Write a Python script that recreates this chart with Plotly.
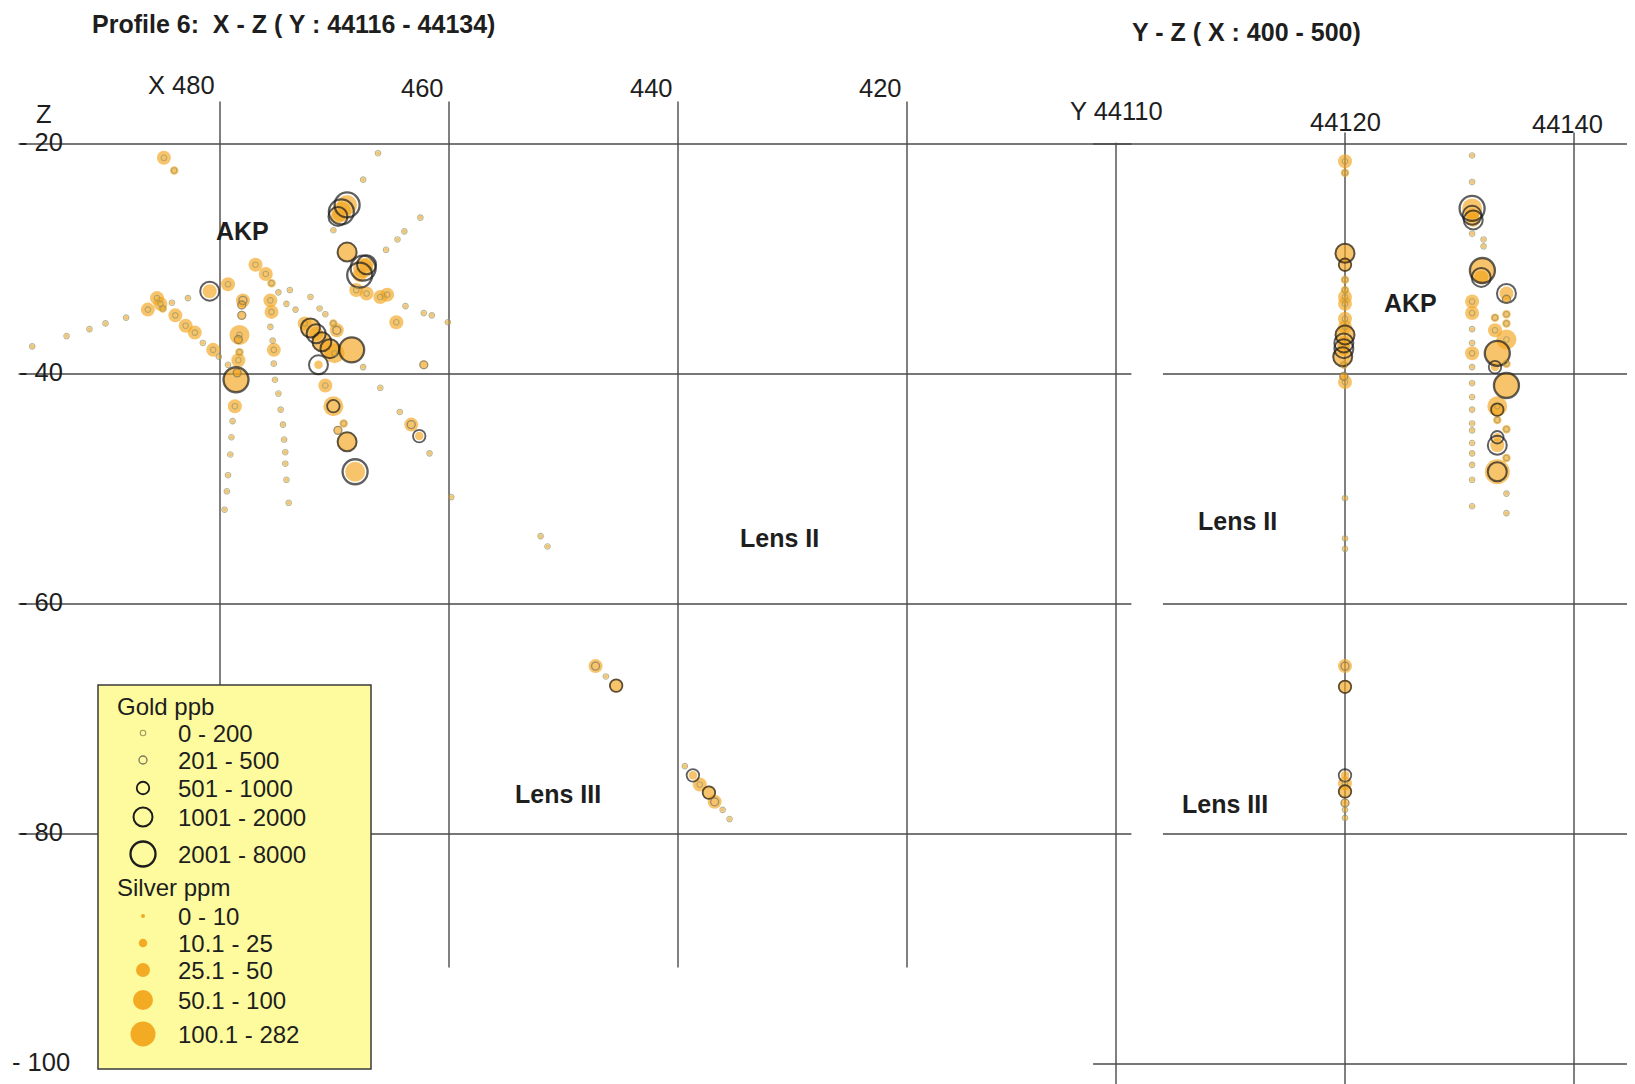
import plotly.graph_objects as go

# ---------------- DATA ----------------
# Left panel: Profile 6, X - Z section (X reversed)
left_x = [484.9, 484.0,
          466.2, 467.5, 468.9, 469.4, 469.7, 470.1, 462.5, 463.9, 464.5, 465.5, 468.9,
          467.5, 467.8, 467.2, 468.1, 467.2, 466.0, 465.4, 464.6, 463.8, 462.2, 461.5,
          460.1, 462.2, 466.0, 464.3, 463.3, 462.6, 461.7, 459.8,
          472.6, 472.1, 471.6, 471.1, 470.4, 470.0, 468.5, 469.8, 470.1, 471.4, 467.5,
          470.8, 470.1, 469.7, 468.9, 468.2, 469.2,
          473.9, 473.4, 472.1, 471.3, 470.8, 474.2,
          476.9, 476.0, 475.5, 474.9, 475.6, 475.5, 475.6, 475.4, 475.3, 475.3, 475.2,
          474.9, 474.7, 474.5, 474.4, 474.3, 474.3, 474.2, 474.0,
          478.0, 478.1, 478.1, 478.3, 478.4, 478.3, 478.4, 478.5, 478.6, 478.7, 478.9,
          479.0, 479.1, 479.3, 479.4, 479.6, 479.3, 480.9,
          485.5, 485.2, 486.3, 485.0, 484.2, 482.8, 488.2, 490.0, 491.4, 493.4, 496.4,
          483.9, 483.0, 482.2, 481.5, 480.6, 480.1, 479.3,
          452.0, 451.4,
          447.2, 446.3, 445.4, 439.4, 438.7, 438.1, 437.3, 436.8, 436.1, 435.5]
left_z = [-21.2, -22.3,
          -20.8, -23.1, -25.3, -25.9, -26.3, -27.5, -26.4, -27.6, -28.3, -29.2, -29.4,
          -30.8, -31.4, -30.5, -32.7, -33.0, -33.3, -33.1, -35.5, -34.1, -34.7, -34.9,
          -35.5, -39.2, -41.2, -43.3, -44.4, -45.4, -46.9, -50.7,
          -35.6, -36.0, -36.5, -37.2, -37.8, -38.2, -37.9, -36.2, -35.6, -39.2, -39.4,
          -41.0, -42.8, -44.9, -45.9, -48.5, -44.3,
          -32.7, -34.4, -33.3, -34.3, -34.8, -33.9,
          -30.5, -31.3, -32.1, -32.9, -33.6, -34.6, -35.9, -37.1, -37.9, -39.1, -40.5,
          -41.7, -43.1, -44.4, -45.7, -46.8, -47.8, -49.2, -51.2,
          -33.6, -34.0, -34.9, -36.6, -37.0, -38.1, -38.8, -39.9, -40.5, -42.8, -44.1,
          -45.5, -47.0, -48.8, -50.2, -51.8, -32.2, -32.8,
          -33.4, -33.9, -34.4, -34.3, -33.8, -33.4, -35.1, -35.6, -36.1, -36.7, -37.6,
          -34.9, -35.8, -36.4, -37.3, -37.9, -38.5, -39.2,
          -54.1, -55.0,
          -65.4, -66.3, -67.1, -74.1, -74.9, -75.7, -76.4, -77.2, -77.9, -78.7]
# silver class (0..4) and gold class (0..4) of each sample
left_ag = [2, 1,
           0, 0, 3, 3, 2, 0, 0, 0, 0, 0, 3,
           3, 2, 2, 2, 2, 2, 2, 2, 0, 0, 0,
           0, 1, 0, 0, 2, 1, 0, 0,
           2, 3, 2, 3, 3, 3, 4, 2, 1, 1, 0,
           2, 3, 1, 3, 3, 1,
           0, 0, 0, 0, 0, 0,
           2, 2, 1, 0, 2, 2, 0, 0, 2, 0, 0,
           0, 0, 0, 0, 0, 0, 0, 0,
           2, 1, 1, 3, 1, 1, 2, 1, 4, 2, 0,
           0, 0, 0, 0, 0, 2, 2,
           2, 2, 2, 1, 0, 0, 0, 0, 0, 0, 0,
           2, 2, 2, 0, 2, 0, 0,
           0, 0,
           2, 0, 2, 0, 1, 2, 2, 2, 0, 0]
left_au = [0, 0,
           0, 0, 4, 4, 3, 0, 0, 0, 0, 0, 3,
           4, 4, 3, 0, 0, 0, 0, 0, 0, 0, 0,
           0, 1, 0, 0, 1, 2, 0, 0,
           0, 3, 3, 3, 3, 0, 4, 1, 0, 3, 0,
           0, 2, 1, 3, 4, 0,
           0, 0, 0, 0, 0, 0,
           0, 0, 0, 0, 0, 0, 0, 0, 0, 0, 0,
           0, 0, 0, 0, 0, 0, 0, 0,
           1, 1, 1, 0, 1, 0, 0, 1, 4, 0, 0,
           0, 0, 0, 0, 0, 0, 3,
           0, 0, 0, 0, 0, 0, 0, 0, 0, 0, 0,
           0, 0, 0, 0, 0, 0, 0,
           0, 0,
           1, 0, 2, 0, 2, 0, 2, 1, 0, 0]

# Right panel: Y - Z section
right_y = [44120, 44120, 44120, 44120, 44120, 44120, 44120, 44120, 44120, 44120,
           44120, 44119.9, 44119.9, 44119.8, 44119.9, 44119.9, 44120, 44120, 44120, 44120,
           44120, 44120, 44120, 44120, 44120, 44120, 44120, 44120,
           44131.1, 44131.1, 44131.1, 44131.1, 44131.2, 44131.1, 44132.1, 44132.1, 44132.0,
           44131.9, 44131.1, 44131.1, 44131.1, 44131.1, 44131.1, 44131.1, 44131.1, 44131.1,
           44131.1, 44131.1, 44131.1, 44131.1, 44131.1, 44131.1, 44131.1, 44131.1,
           44134.1, 44134.1, 44134.1, 44134.1, 44133.1, 44133.1, 44134.1, 44133.3, 44133.1,
           44134.1, 44134.1, 44133.3, 44133.3, 44133.3, 44134.1, 44133.3, 44133.3, 44134.1,
           44133.3, 44134.1, 44134.1]
right_z = [-21.5, -22.5, -29.5, -30.5, -31.8, -32.7, -33.3, -33.9, -35.2, -35.9,
           -36.6, -37.3, -37.8, -38.5, -39.2, -40.2, -40.7, -50.8, -54.3, -55.2,
           -65.4, -67.2, -74.9, -75.6, -76.3, -77.3, -77.9, -78.6,
           -21.0, -23.3, -25.6, -26.2, -26.6, -27.8, -28.3, -28.9, -31.0,
           -31.6, -33.7, -34.7, -36.1, -37.3, -38.2, -39.4, -40.8, -42.0,
           -43.1, -44.3, -44.9, -46.0, -46.9, -47.9, -49.2, -51.5,
           -33.0, -33.5, -34.8, -35.6, -35.1, -36.2, -37.0, -38.2, -39.4,
           -39.1, -41.0, -42.8, -43.1, -44.0, -44.8, -45.5, -46.2, -47.3,
           -48.5, -50.4, -52.1]
right_ag = [2, 1, 3, 2, 1, 1, 2, 2, 2, 2,
            3, 2, 2, 3, 1, 1, 2, 0, 0, 0,
            2, 2, 1, 2, 2, 1, 0, 0,
            0, 0, 3, 2, 2, 0, 0, 0, 4,
            2, 2, 2, 0, 0, 2, 0, 0, 0,
            0, 0, 0, 0, 0, 0, 0, 0,
            2, 1, 1, 1, 1, 2, 3, 4, 1,
            1, 4, 3, 2, 1, 1, 1, 2, 1,
            4, 0, 0]
right_au = [0, 0, 3, 2, 0, 0, 0, 0, 0, 0,
            3, 3, 3, 3, 0, 1, 0, 0, 0, 0,
            1, 2, 2, 0, 2, 1, 0, 0,
            0, 0, 4, 3, 3, 0, 0, 0, 4,
            3, 0, 0, 0, 0, 0, 0, 0, 0,
            0, 0, 0, 0, 0, 0, 0, 0,
            3, 1, 0, 0, 0, 0, 0, 4, 2,
            0, 4, 0, 2, 0, 0, 2, 3, 0,
            3, 0, 0]

gold_labels = ["0 - 200", "201 - 500", "501 - 1000", "1001 - 2000", "2001 - 8000"]
silver_labels = ["0 - 10", "10.1 - 25", "25.1 - 50", "50.1 - 100", "100.1 - 282"]

x_ticks = [480, 460, 440, 420]
x_tick_text = ["X 480", "460", "440", "420"]
y_ticks = [44100, 44120, 44140]
y_tick_text = ["Y 44110", "44120", "44140"]
z_ticks = [-20, -40, -60, -80]
z_tick_text = ["- 20", "- 40", "- 60", "- 80", "- 100"]
z_label_vals = [-20, -40, -60, -80, -100]

# ---------------- STYLE / GEOMETRY ----------------
OFF = 8                        # browser default body margin
W, H = 1635 - OFF, 1084 - OFF  # figure size
PX, PZ = 11.45, 11.5           # pixels per data unit
FONT = "Liberation Sans, Arial, sans-serif"
TXT = "#1e1e1e"
GRID = "#4a4a4a"
ORANGE = "rgba(243,164,26,0.92)"
SILVER_SIZE = [4, 8.5, 14, 20, 25]
GOLD_SIZE = [5.5, 8, 12.5, 19, 25]
GOLD_COLOR = ["#9f9860", "#7a7660", "#1c1c1c", "#1c1c1c", "#1c1c1c"]
GOLD_WIDTH = [1.1, 1.3, 1.8, 2.0, 2.3]


def px(p):   # page x pixel -> paper
    return (p - OFF) / W


def py(p):   # page y pixel -> paper
    return 1 - (p - OFF) / H


X480_PX, Y44120_PX, Z20_PX = 220 - OFF, 1345 - OFF, 144 - OFF
L_DOM = [0.0, 0.70]
R_DOM = [0.66, 1.0]
x_range = [480 + X480_PX / PX, 480 - (L_DOM[1] * W - X480_PX) / PX]
x2_range = [44120 - (Y44120_PX - R_DOM[0] * W) / PX, 44120 + (W - Y44120_PX) / PX]
y_range = [-20 - (H - Z20_PX) / PZ, -20 + Z20_PX / PZ]

fig = go.Figure()


def add_panel(xs, zs, ag, au, xa):
    fig.add_trace(go.Scatter(
        x=xs, y=zs, mode="markers", xaxis=xa, yaxis="y", showlegend=False,
        hoverinfo="skip",
        marker=dict(size=[SILVER_SIZE[c] for c in ag], color=ORANGE,
                    line=dict(width=0))))
    fig.add_trace(go.Scatter(
        x=xs, y=zs, mode="markers", xaxis=xa, yaxis="y", showlegend=False,
        hoverinfo="skip",
        marker=dict(size=[GOLD_SIZE[c] for c in au], color="rgba(0,0,0,0)",
                    line=dict(width=[GOLD_WIDTH[c] for c in au],
                              color=[GOLD_COLOR[c] for c in au]))))


add_panel(left_x, left_z, left_ag, left_au, "x")
add_panel(right_y, right_z, right_ag, right_au, "x2")

shapes = []
ln = dict(color=GRID, width=1.4)
# left panel grid
for zt in z_ticks:
    shapes.append(dict(type="line", xref="x", yref="y", x0=497.6, x1=400.4,
                       y0=zt, y1=zt, line=ln, layer="below"))
for xt in x_ticks:
    shapes.append(dict(type="line", xref="x", yref="y", x0=xt, x1=xt,
                       y0=-16.3, y1=-91.6, line=ln, layer="below"))
# right panel grid
for zt in z_ticks + [-100]:
    start = 44098.0 if zt in (-20, -100) else 44104.1
    shapes.append(dict(type="line", xref="x2", yref="y", x0=start, x1=x2_range[1],
                       y0=zt, y1=zt, line=ln, layer="below"))
for yt in y_ticks:
    top = -19.9 if yt == 44100 else -19.0
    shapes.append(dict(type="line", xref="x2", yref="y", x0=yt, x1=yt,
                       y0=top, y1=y_range[0], line=ln, layer="below"))

# legend box
shapes.append(dict(type="rect", xref="paper", yref="paper",
                   x0=px(98), x1=px(371), y0=py(1069), y1=py(685),
                   fillcolor="#fdfb9e", line=dict(color="#3a3a3a", width=1.5),
                   layer="above"))

annotations = []


def ann(text, x, y, xref="paper", yref="paper", size=25, xanchor="center",
        yanchor="middle", xshift=0, bold=False):
    annotations.append(dict(
        text=("<b>%s</b>" % text) if bold else text, x=x, y=y, xref=xref, yref=yref,
        showarrow=False, xanchor=xanchor, yanchor=yanchor, xshift=xshift,
        font=dict(family=FONT, size=size, color=TXT)))


# titles
ann("Profile 6:  X - Z ( Y : 44116 - 44134)", px(90), py(24), size=25,
    xanchor="left", bold=True)
ann("Y - Z ( X : 400 - 500)", px(1130), py(32), size=25, xanchor="left",
    bold=True)

# axis labels
for xt, tt in zip(x_ticks, x_tick_text):
    ann(tt, xt, -14.9 if xt == 480 else -15.1, xref="x", yref="y",
        xanchor="right", xshift=-3, size=25.5)
ann("Z", 495.4, -17.4, xref="x", yref="y", size=25.5)
for zv, tt in zip(z_label_vals, z_tick_text):
    ann(tt, 495.6, zv + 0.15, xref="x", yref="y", size=25.5)
ann(y_tick_text[0], 44100, -17.1, xref="x2", yref="y", size=25.5)
ann(y_tick_text[1], 44120, -18.1, xref="x2", yref="y", size=25.5)
ann(y_tick_text[2], 44140, -18.3, xref="x2", yref="y", xshift=-7, size=25.5)

# zone labels
ann("AKP", 478.0, -27.6, xref="x", yref="y", bold=True)
ann("Lens II", 431.1, -54.3, xref="x", yref="y", bold=True)
ann("Lens III", 450.5, -76.5, xref="x", yref="y", bold=True)
ann("AKP", 44125.7, -33.8, xref="x2", yref="y", bold=True)
ann("Lens II", 44110.6, -52.8, xref="x2", yref="y", bold=True)
ann("Lens III", 44109.5, -77.4, xref="x2", yref="y", bold=True)

# legend content
gold_rows = [733, 760, 788, 817, 854]
silver_rows = [916, 943, 970, 1000, 1034]
ann("Gold ppb", px(115), py(706), xanchor="left", size=24)
ann("Silver ppm", px(115), py(887), xanchor="left", size=24)
for i, (lab, yr) in enumerate(zip(gold_labels, gold_rows)):
    ann(lab, px(176), py(yr), xanchor="left", size=24)
    r = GOLD_SIZE[i] / 2
    shapes.append(dict(type="circle", xref="paper", yref="paper",
                       xsizemode="pixel", ysizemode="pixel",
                       xanchor=px(143), yanchor=py(yr),
                       x0=-r, x1=r, y0=-r, y1=r, fillcolor="rgba(0,0,0,0)",
                       line=dict(color=GOLD_COLOR[i], width=GOLD_WIDTH[i]),
                       layer="above"))
for i, (lab, yr) in enumerate(zip(silver_labels, silver_rows)):
    ann(lab, px(176), py(yr), xanchor="left", size=24)
    r = SILVER_SIZE[i] / 2
    shapes.append(dict(type="circle", xref="paper", yref="paper",
                       xsizemode="pixel", ysizemode="pixel",
                       xanchor=px(143), yanchor=py(yr),
                       x0=-r, x1=r, y0=-r, y1=r, fillcolor=ORANGE,
                       line=dict(width=0), layer="above"))

fig.update_layout(
    width=W, height=H, margin=dict(l=0, r=0, t=0, b=0),
    paper_bgcolor="white", plot_bgcolor="rgba(0,0,0,0)",
    xaxis=dict(domain=L_DOM, range=x_range, visible=False, anchor="y"),
    xaxis2=dict(domain=R_DOM, range=x2_range, visible=False, anchor="y"),
    yaxis=dict(domain=[0, 1], range=y_range, visible=False, anchor="x"),
    shapes=shapes, annotations=annotations, showlegend=False,
)

fig.write_html("out.html")
